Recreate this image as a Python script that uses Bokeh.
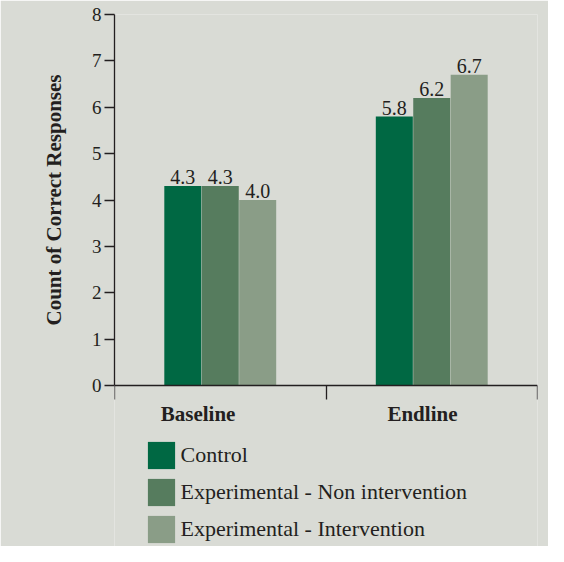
from bokeh.plotting import figure
from bokeh.models import (ColumnDataSource, FixedTicker, Range1d, Legend, LegendItem, Title)
from bokeh.core.properties import value
from bokeh.embed import file_html
from bokeh.resources import INLINE

categories = ["Baseline", "Endline"]
series_names = ["Control", "Experimental - Non intervention", "Experimental - Intervention"]
control = [4.3, 5.8]
non_intervention = [4.3, 6.2]
intervention = [4.0, 6.7]
y_ticks = [0, 1, 2, 3, 4, 5, 6, 7, 8]
y_title = "Count of Correct Responses"

colors = ["#006843", "#567c5e", "#8a9d87"]
BG = "#d9dbd5"
INK = "#231f20"
FONT = "Liberation Serif"

W, H = 548, 546
FRAME_TOP, ZERO_Y, FRAME_LEFT, FRAME_RIGHT = 14, 385, 114, 537
px_per_unit = (ZERO_Y - FRAME_TOP) / y_ticks[-1]
y_start = -(H - ZERO_Y) / px_per_unit

p = figure(width=W, height=H, output_backend="svg", toolbar_location=None,
           x_range=Range1d(0, len(categories)), y_range=Range1d(y_start, y_ticks[-1]),
           x_axis_location="above",
           min_border_left=FRAME_LEFT, min_border_right=W - FRAME_RIGHT,
           min_border_top=FRAME_TOP, min_border_bottom=0)
p.background_fill_color = BG
p.border_fill_color = BG
p.outline_line_color = None
p.xgrid.visible = False
p.ygrid.visible = False

offsets = [-0.177, 0.0, 0.177]
bar_w = 0.175
renderers = []
for k, (name, vals) in enumerate(zip(series_names, [control, non_intervention, intervention])):
    xs = [i + 0.5 + offsets[k] for i in range(len(categories))]
    src = ColumnDataSource(dict(x=xs, top=vals, lab=["%.1f" % v for v in vals]))
    r = p.vbar(x="x", top="top", width=bar_w, bottom=0, source=src,
               fill_color=colors[k], line_color=None)
    renderers.append(r)
    p.text(x="x", y="top", text="lab", source=src, text_align="center",
           text_baseline="alphabetic", y_offset=-9, text_font=value(FONT),
           text_font_size="20px", text_color=INK)

# category labels under the baseline (set slightly left of centre, as in the source)
label_shift = [-0.105, -0.044]
cat_src = ColumnDataSource(dict(x=[i + 0.5 + label_shift[i] for i in range(len(categories))],
                                y=[0] * len(categories), t=categories))
p.text(x="x", y="y", text="t", source=cat_src, text_align="center", text_baseline="middle",
       y_offset=28, text_font=value(FONT), text_font_style="bold",
       text_font_size="21px", text_color=INK)

# x axis (line at y=0, boundary ticks pointing down)
xa = p.xaxis[0]
xa.fixed_location = 0
xa.ticker = FixedTicker(ticks=[], minor_ticks=list(range(len(categories) + 1)))
xa.major_tick_out = 0
xa.major_tick_in = 0
xa.major_label_standoff = 0
xa.minor_tick_out = 0
xa.minor_tick_in = 14
xa.minor_tick_line_color = INK
xa.minor_tick_line_width = 1.3
xa.axis_line_color = INK
xa.axis_line_width = 1.3

# y axis
ya = p.yaxis[0]
ya.bounds = (y_ticks[0], y_ticks[-1])
ya.ticker = FixedTicker(ticks=y_ticks)
ya.major_tick_out = 10
ya.major_tick_in = 0
ya.minor_tick_line_color = None
ya.major_tick_line_color = INK
ya.major_tick_line_width = 1.3
ya.axis_line_color = INK
ya.axis_line_width = 1.3
ya.major_label_text_font = FONT
ya.major_label_text_font_size = "19px"
ya.major_label_text_color = INK
ya.major_label_standoff = 3

# y axis title, centred on the 0-8 part of the axis
title_len = 251
p.add_layout(Title(text=y_title, align="left", offset=(H - ZERO_Y) + (ZERO_Y - FRAME_TOP) / 2 - title_len / 2,
                   vertical_align="top", standoff=42,
                   text_font=FONT, text_font_style="bold", text_font_size="21px",
                   text_color=INK), "left")

legend = Legend(items=[LegendItem(label=n, renderers=[r]) for n, r in zip(series_names, renderers)],
                location=(29.6, 0.5), orientation="vertical",
                glyph_width=34, glyph_height=34, spacing=3, padding=0, margin=0,
                label_standoff=3, label_text_font=FONT, label_text_font_size="22px",
                label_text_color=INK, background_fill_alpha=0, border_line_color=None)
p.add_layout(legend, "center")

open("out.html", "w").write(file_html(p, INLINE))
